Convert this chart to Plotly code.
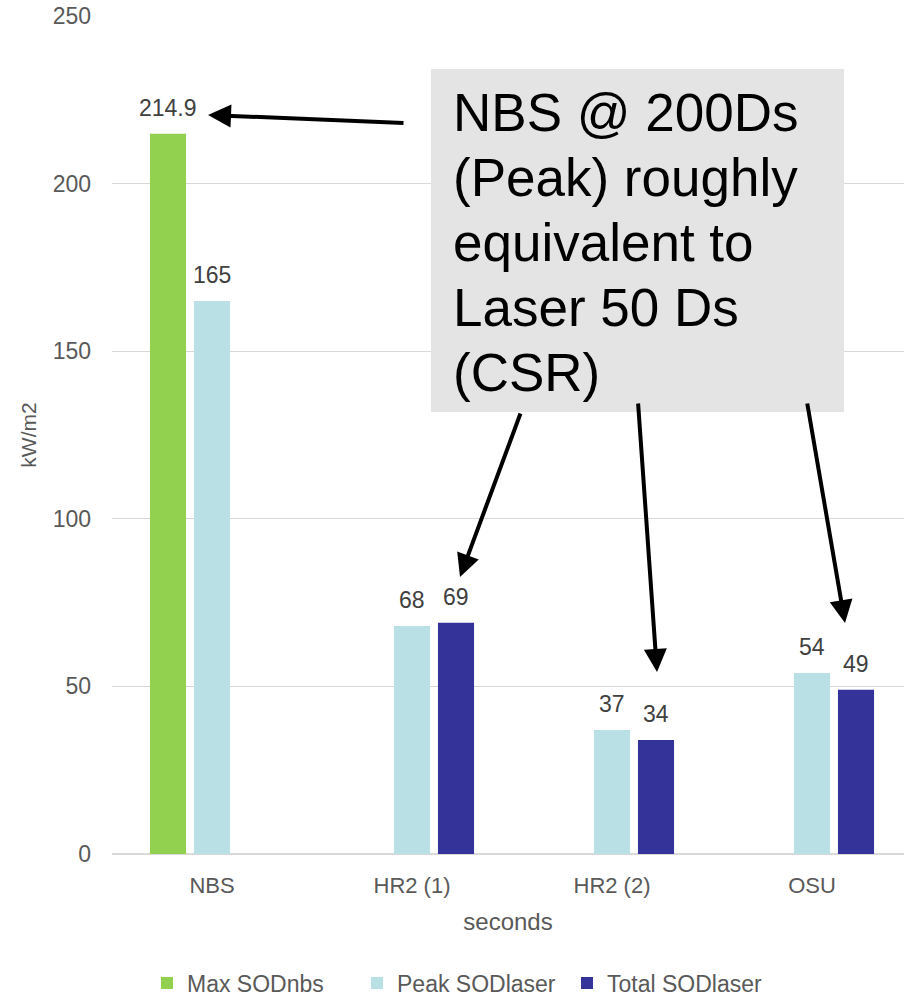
import plotly.graph_objects as go

# Chart data
categories = ["NBS", "HR2 (1)", "HR2 (2)", "OSU"]
max_sod_nbs = [214.9, None, None, None]
peak_sod_laser = [165, 68, 37, 54]
total_sod_laser = [None, 69, 34, 49]

series_names = ["Max SODnbs", "Peak SODlaser", "Total SODlaser"]
series_colors = ["#92D050", "#B9E0E4", "#333399"]

note_lines = ["NBS @ 200Ds", "(Peak) roughly", "equivalent to", "Laser 50 Ds", "(CSR)"]

FONT = "Liberation Sans, Arial, sans-serif"
W, H = 904, 1000
ML, MR, MT, MB = 112, 0, 16, 146
PW, PH = W - ML - MR, H - MT - MB


def px(x):
    return (x - ML) / PW


def py(y):
    return (H - MB - y) / PH


fig = go.Figure()
all_series = [max_sod_nbs, peak_sod_laser, total_sod_laser]
for name, vals, col in zip(series_names, all_series, series_colors):
    fig.add_trace(go.Bar(x=categories, y=vals, name=name, marker_color=col,
                         marker_line_width=0))

# value labels above each bar
annotations = []
slot = 0.22
for si, vals in enumerate(all_series):
    for ci, v in enumerate(vals):
        if v is None:
            continue
        annotations.append(dict(
            x=ci + (si - 1) * slot, y=v, xref="x", yref="y",
            text=("%g" % v), showarrow=False, yanchor="bottom", yshift=11,
            font=dict(family=FONT, size=23, color="#404040")))

# callout box
fig.add_shape(type="rect", xref="paper", yref="paper",
              x0=px(431), x1=px(844), y0=py(412), y1=py(69),
              fillcolor="#E4E4E4", line_width=0, layer="above")

line_y = [112, 177, 242, 307, 372]
for txt, yy in zip(note_lines, line_y):
    annotations.append(dict(
        x=px(451), y=py(yy), xref="paper", yref="paper", text=txt,
        showarrow=False, xanchor="left", yanchor="middle",
        font=dict(family=FONT, size=53, color="#000000")))

# arrows: (tip, tail) in pixel space
arrows = [((208, 115), (405, 123)),
          ((460, 577), (521, 412)),
          ((657, 672), (638, 402)),
          ((845, 623), (807, 402))]
for (hx, hy), (tx, ty) in arrows:
    annotations.append(dict(
        x=px(hx), y=py(hy), xref="paper", yref="paper",
        ax=tx - hx, ay=ty - hy, axref="pixel", ayref="pixel",
        showarrow=True, arrowhead=2, arrowsize=1.15, arrowwidth=4,
        arrowcolor="#000000", text=""))

fig.update_layout(
    width=W, height=H,
    margin=dict(l=ML, r=MR, t=MT, b=MB, autoexpand=False),
    paper_bgcolor="white", plot_bgcolor="white",
    barmode="group", bargap=0.34, bargroupgap=0.18,
    font=dict(family=FONT, size=22, color="#595959"),
    showlegend=True,
    legend=dict(orientation="h", x=px(147), xanchor="left",
                y=py(983), yanchor="middle",
                font=dict(family=FONT, size=23, color="#595959"),
                itemwidth=30, entrywidth=165, traceorder="normal"),
    annotations=annotations,
)

fig.update_xaxes(
    type="category", range=[-0.5, 3.46], automargin=False,
    showgrid=False, showline=False, zeroline=False,
    tickfont=dict(family=FONT, size=22, color="#595959"),
    ticks="", ticklabelstandoff=16,
    title=dict(text="seconds", standoff=16,
               font=dict(family=FONT, size=24, color="#595959")),
)
fig.update_yaxes(
    range=[0, 250], dtick=50, automargin=False,
    showgrid=True, gridcolor="#D9D9D9", gridwidth=1,
    zeroline=True, zerolinecolor="#D9D9D9", zerolinewidth=2, showline=False,
    tickfont=dict(family=FONT, size=23, color="#595959"),
    ticks="", ticklabelstandoff=20,
    title=dict(text="kW/m2", standoff=10,
               font=dict(family=FONT, size=21, color="#595959")),
)

fig.write_html("out.html")
